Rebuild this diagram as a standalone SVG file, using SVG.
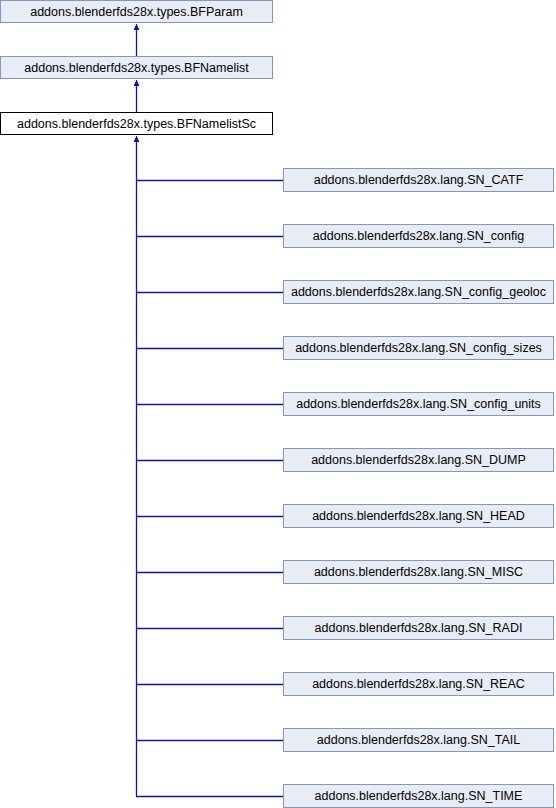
<svg xmlns="http://www.w3.org/2000/svg" width="556" height="808" viewBox="0 0 556 808">
<style>
.n rect{fill:#e8ecf5;stroke:#8294c8;stroke-width:1}
.n.cur rect{fill:#ffffff;stroke:#000000}
.n text{font-family:"Liberation Sans",Arial,sans-serif;font-size:12.5px;fill:#000;text-anchor:middle;dominant-baseline:central}
.e{fill:none;stroke:#15159a;stroke-width:1.3}
</style>
<defs>
<marker id="ah" viewBox="0 0 10 10" refX="10" refY="5" markerWidth="6" markerHeight="6" markerUnits="userSpaceOnUse" orient="auto">
<path d="M0,0 L10,5 L0,10 z" fill="#15159a"/>
</marker>
</defs>
<rect width="556" height="808" fill="#ffffff"/>
<g id="edges">
<path class="e" d="M136.5,56 V24" marker-end="url(#ah)"/>
<path class="e" d="M136.5,112 V80" marker-end="url(#ah)"/>
<path class="e" d="M136.5,796.5 V136" marker-end="url(#ah)"/>
<path class="e" d="M136,180.5 H283"/>
<path class="e" d="M136,236.5 H283"/>
<path class="e" d="M136,292.5 H283"/>
<path class="e" d="M136,348.5 H283"/>
<path class="e" d="M136,404.5 H283"/>
<path class="e" d="M136,460.5 H283"/>
<path class="e" d="M136,516.5 H283"/>
<path class="e" d="M136,572.5 H283"/>
<path class="e" d="M136,628.5 H283"/>
<path class="e" d="M136,684.5 H283"/>
<path class="e" d="M136,740.5 H283"/>
<path class="e" d="M136,796.5 H283"/>
</g>
<g id="BFParam" class="n"><rect x="0.5" y="0.5" width="272" height="22"/><text x="136.5" y="12">addons.blenderfds28x.types.BFParam</text></g>
<g id="BFNamelist" class="n"><rect x="0.5" y="56.5" width="272" height="22"/><text x="136.5" y="68">addons.blenderfds28x.types.BFNamelist</text></g>
<g id="BFNamelistSc" class="n cur"><rect x="0.5" y="112.5" width="272" height="22"/><text x="136.5" y="124">addons.blenderfds28x.types.BFNamelistSc</text></g>
<g id="SN_CATF" class="n"><rect x="283.5" y="168.5" width="270" height="23"/><text x="418.5" y="180">addons.blenderfds28x.lang.SN_CATF</text></g>
<g id="SN_config" class="n"><rect x="283.5" y="224.5" width="270" height="23"/><text x="418.5" y="236">addons.blenderfds28x.lang.SN_config</text></g>
<g id="SN_config_geoloc" class="n"><rect x="283.5" y="280.5" width="270" height="23"/><text x="418.5" y="292">addons.blenderfds28x.lang.SN_config_geoloc</text></g>
<g id="SN_config_sizes" class="n"><rect x="283.5" y="336.5" width="270" height="23"/><text x="418.5" y="348">addons.blenderfds28x.lang.SN_config_sizes</text></g>
<g id="SN_config_units" class="n"><rect x="283.5" y="392.5" width="270" height="23"/><text x="418.5" y="404">addons.blenderfds28x.lang.SN_config_units</text></g>
<g id="SN_DUMP" class="n"><rect x="283.5" y="448.5" width="270" height="23"/><text x="418.5" y="460">addons.blenderfds28x.lang.SN_DUMP</text></g>
<g id="SN_HEAD" class="n"><rect x="283.5" y="504.5" width="270" height="23"/><text x="418.5" y="516">addons.blenderfds28x.lang.SN_HEAD</text></g>
<g id="SN_MISC" class="n"><rect x="283.5" y="560.5" width="270" height="23"/><text x="418.5" y="572">addons.blenderfds28x.lang.SN_MISC</text></g>
<g id="SN_RADI" class="n"><rect x="283.5" y="616.5" width="270" height="23"/><text x="418.5" y="628">addons.blenderfds28x.lang.SN_RADI</text></g>
<g id="SN_REAC" class="n"><rect x="283.5" y="672.5" width="270" height="23"/><text x="418.5" y="684">addons.blenderfds28x.lang.SN_REAC</text></g>
<g id="SN_TAIL" class="n"><rect x="283.5" y="728.5" width="270" height="23"/><text x="418.5" y="740">addons.blenderfds28x.lang.SN_TAIL</text></g>
<g id="SN_TIME" class="n"><rect x="283.5" y="784.5" width="270" height="23"/><text x="418.5" y="796">addons.blenderfds28x.lang.SN_TIME</text></g>
</svg>
